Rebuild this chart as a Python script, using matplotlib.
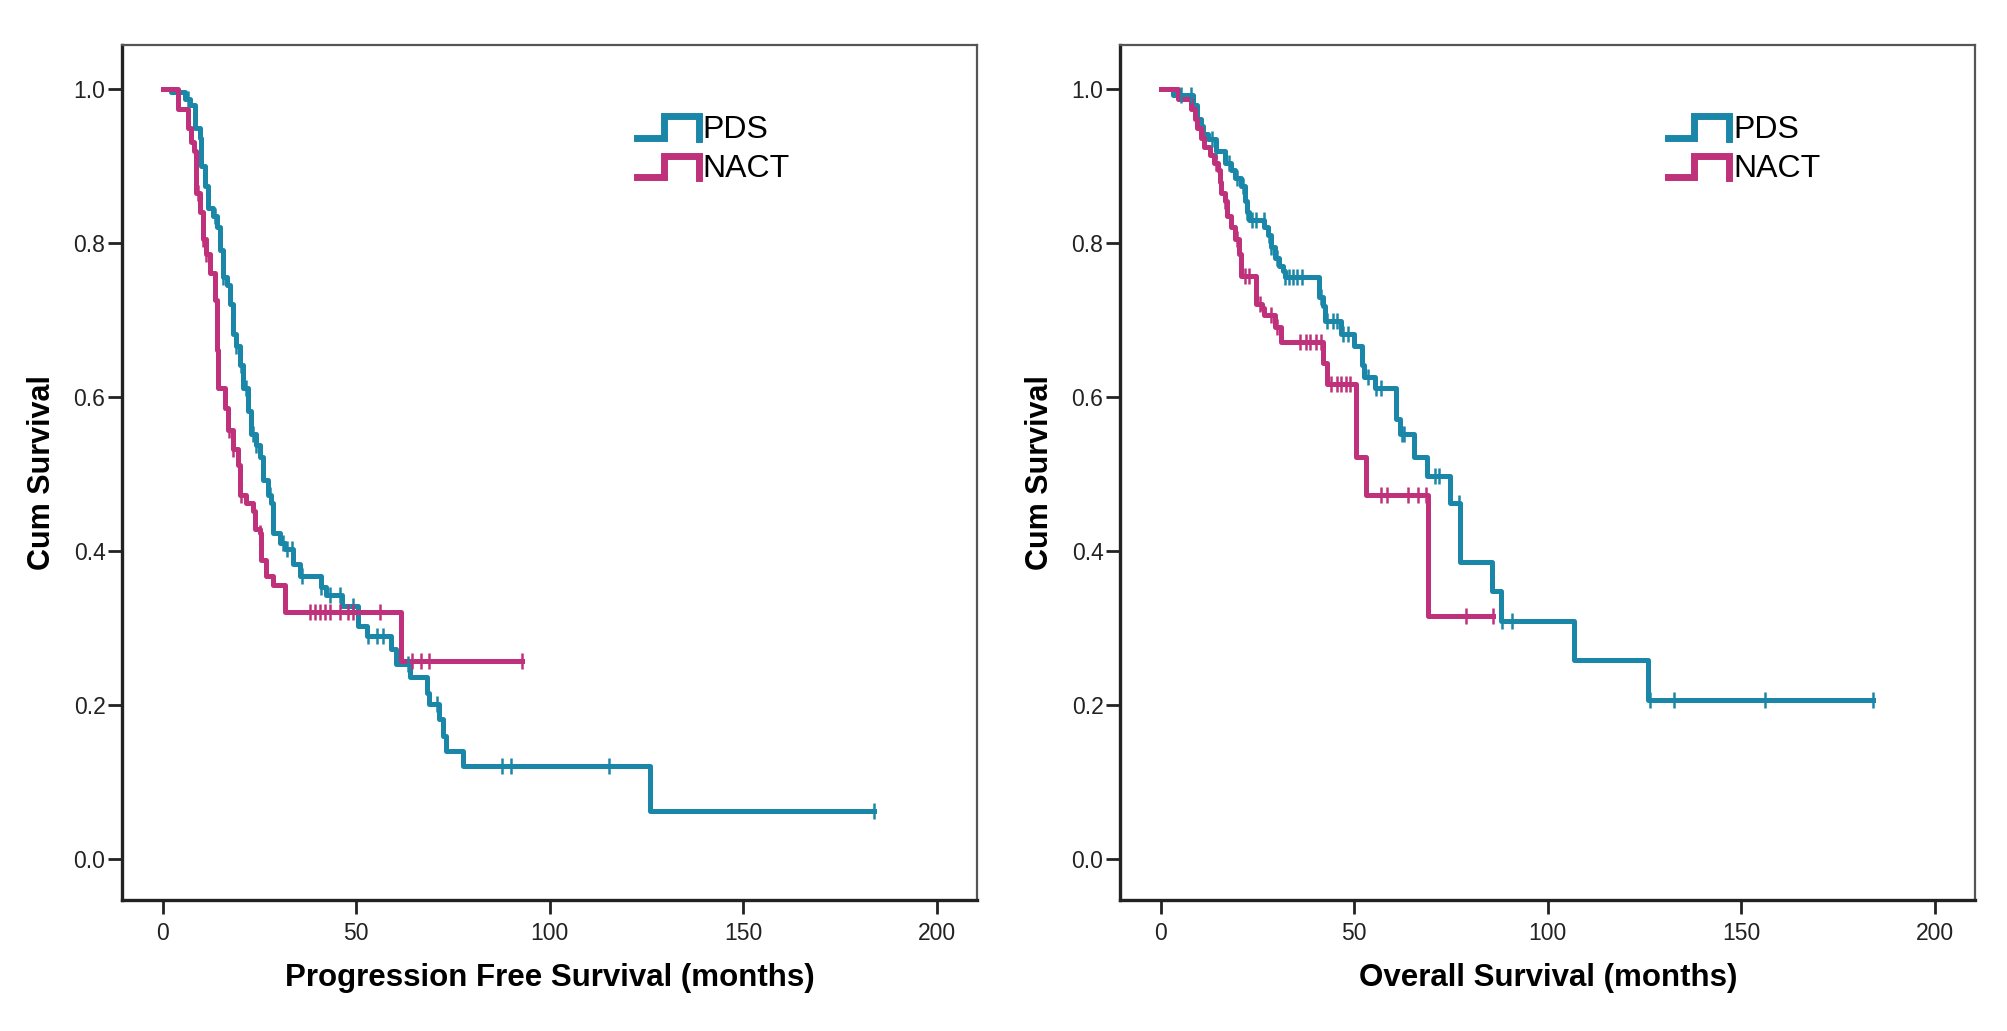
import numpy as np
import matplotlib
matplotlib.use("Agg")
import matplotlib.pyplot as plt
from matplotlib.legend_handler import HandlerBase
from matplotlib.lines import Line2D

plt.rcParams["font.family"] = ["Liberation Sans", "DejaVu Sans"]

TEAL = "#1b87a8"
MAGENTA = "#bf317a"

# --- Progression free survival: step points (time in months, survival) ---
pfs_pds_t = [0, 2.2, 5.7, 7.0, 8.3, 9.6, 10.0, 10.9, 11.7, 13.0, 13.9, 14.7, 15.6,
             16.5, 17.3, 18.2, 19.0, 19.9, 20.8, 22.1, 22.9, 24.2, 25.1, 25.9, 27.2,
             28.1, 28.5, 30.2, 31.5, 33.7, 35.4, 41.0, 42.3, 46.2, 50.5, 52.9, 58.9,
             60.2, 63.9, 68.2, 68.7, 71.4, 72.5, 73.3, 77.6, 126.0, 183.8]
pfs_pds_s = [1.0, 0.996, 0.986, 0.978, 0.949, 0.936, 0.899, 0.874, 0.845, 0.835, 0.820,
             0.790, 0.755, 0.745, 0.720, 0.681, 0.666, 0.641, 0.611, 0.582, 0.552, 0.537,
             0.522, 0.492, 0.472, 0.462, 0.423, 0.410, 0.403, 0.383, 0.368, 0.353, 0.343,
             0.328, 0.302, 0.289, 0.273, 0.253, 0.236, 0.216, 0.201, 0.182, 0.160, 0.140,
             0.121, 0.062, 0.062]
pfs_pds_cens = [6.5, 9.6, 13.4, 15.6, 19.0, 20.3, 21.6, 23.4, 24.2, 27.7, 31.1, 32.0,
                33.3, 35.9, 41.0, 43.2, 45.8, 49.2, 53.1, 55.3, 57.0, 63.4, 70.9, 87.7,
                90.1, 115.3, 183.8]

pfs_nact_t = [0, 4.0, 6.5, 7.4, 8.0, 8.7, 9.6, 10.4, 11.3, 12.1, 13.4, 13.9, 14.1, 14.3,
              16.0, 16.9, 18.2, 19.5, 19.9, 21.6, 23.4, 23.8, 25.1, 25.5, 26.8, 28.5,
              31.5, 61.5, 92.8]
pfs_nact_s = [1.0, 0.974, 0.949, 0.931, 0.919, 0.864, 0.840, 0.805, 0.785, 0.760, 0.725,
              0.701, 0.661, 0.611, 0.586, 0.557, 0.532, 0.512, 0.472, 0.462, 0.452, 0.428,
              0.423, 0.388, 0.368, 0.356, 0.321, 0.257, 0.257]
pfs_nact_cens = [9.0, 10.4, 11.3, 17.0, 18.2, 20.3, 25.1, 38.0, 39.3, 40.6, 41.9, 43.2,
                 45.8, 47.9, 49.2, 56.1, 64.4, 66.6, 68.7, 92.8]

# --- Overall survival ---
os_pds_t = [0, 3.3, 8.3, 9.3, 10.3, 10.8, 12.3, 14.2, 16.7, 18.2, 19.2, 20.7, 21.7, 22.2,
            22.7, 26.7, 27.6, 28.6, 29.6, 30.6, 31.6, 32.1, 41.0, 42.0, 42.5, 46.5, 50.0,
            52.0, 52.5, 55.4, 60.9, 61.9, 65.4, 68.9, 74.8, 77.3, 85.5, 87.8, 106.8,
            126.0, 184.0]
os_pds_s = [1.0, 0.991, 0.978, 0.961, 0.951, 0.941, 0.934, 0.919, 0.904, 0.894, 0.884,
            0.874, 0.854, 0.840, 0.830, 0.820, 0.810, 0.795, 0.780, 0.770, 0.763, 0.755,
            0.730, 0.718, 0.698, 0.681, 0.666, 0.641, 0.626, 0.611, 0.571, 0.552, 0.522,
            0.497, 0.462, 0.386, 0.348, 0.309, 0.258, 0.206, 0.206]
os_pds_cens = [5.3, 7.8, 13.2, 14.2, 17.7, 19.7, 21.2, 22.2, 23.7, 24.7, 26.6, 28.1, 28.6,
               30.1, 32.1, 33.1, 34.1, 35.1, 36.6, 41.5, 43.0, 44.5, 45.5, 47.0, 48.5,
               53.5, 55.5, 56.9, 62.4, 62.9, 70.8, 71.8, 77.0, 88.2, 90.7, 126.5, 132.5,
               156.0, 184.0]

os_nact_t = [0, 4.5, 7.8, 8.8, 9.3, 10.3, 11.3, 12.7, 13.7, 14.7, 15.2, 15.7, 16.7, 17.2,
             18.2, 19.2, 20.2, 20.7, 24.7, 26.2, 26.7, 29.6, 31.1, 42.0, 43.0, 50.5, 53.0,
             69.0, 85.8]
os_nact_s = [1.0, 0.986, 0.974, 0.961, 0.949, 0.936, 0.924, 0.914, 0.904, 0.894, 0.879,
             0.864, 0.854, 0.835, 0.820, 0.805, 0.785, 0.757, 0.720, 0.715, 0.706, 0.691,
             0.671, 0.644, 0.616, 0.522, 0.472, 0.316, 0.316]
os_nact_cens = [10.8, 14.2, 16.7, 19.7, 21.7, 22.7, 25.7, 28.6, 30.1, 36.1, 37.6, 38.6,
                40.1, 41.5, 44.0, 45.5, 46.5, 48.0, 49.0, 56.9, 58.4, 63.9, 66.4, 68.5,
                78.8, 85.8]

groups = ["PDS", "NACT"]
x_ticks = [0, 50, 100, 150, 200]
y_ticks = [0.0, 0.2, 0.4, 0.6, 0.8, 1.0]


class StepHandler(HandlerBase):
    """Legend key drawn as a little KM step."""
    def create_artists(self, legend, orig_handle, xdescent, ydescent,
                       width, height, fontsize, trans):
        fx = np.array([0.0, 0.42, 0.42, 0.97, 0.97])
        fy = np.array([0.0, 0.0, 0.95, 0.95, -0.05])
        line = Line2D(fx * width - xdescent, fy * height - ydescent,
                      color=orig_handle.get_color(), lw=5,
                      solid_joinstyle="miter")
        line.set_transform(trans)
        return [line]


def km_panel(ax, curves, xlabel, legend_x):
    handles = []
    for t, s, cens, color in curves:
        t = np.asarray(t)
        s = np.asarray(s)
        h, = ax.step(t, s, where="post", color=color, lw=3.6, zorder=3)
        handles.append(h)
        idx = np.searchsorted(t, cens, side="right") - 1
        ax.plot(cens, s[idx], ls="none", marker="|", ms=12, mew=1.8,
                color=color, zorder=4)

    ax.set_xlim(-10.5, 210.5)
    ax.set_ylim(-0.053, 1.056)
    ax.set_xticks(x_ticks)
    ax.set_yticks(y_ticks)
    ax.set_yticklabels([f"{v:.1f}" for v in y_ticks])
    ax.tick_params(axis="both", labelsize=16.5, length=10, width=2.0, pad=2,
                   colors="#222222")
    ax.tick_params(axis="x", pad=6)

    for side in ["left", "bottom"]:
        ax.spines[side].set_linewidth(2.4)
        ax.spines[side].set_color("#222222")
    for side in ["top", "right"]:
        ax.spines[side].set_linewidth(1.6)
        ax.spines[side].set_color("#555555")

    ax.set_xlabel(xlabel, fontsize=22.5, fontweight="bold", labelpad=13)
    ax.set_ylabel("Cum Survival", fontsize=22, fontweight="bold", labelpad=12)

    ax.legend(handles, groups, handler_map={Line2D: StepHandler()},
              loc="upper left", bbox_to_anchor=(legend_x, 0.919),
              frameon=False, fontsize=23, handlelength=2.0, handleheight=0.7,
              handletextpad=0.05, labelspacing=0.3, borderpad=0,
              borderaxespad=0)


fig = plt.figure(figsize=(20.08, 10.31), dpi=100, facecolor="white")
ax1 = fig.add_axes([0.0608, 0.127, 0.426, 0.829])
ax2 = fig.add_axes([0.5578, 0.127, 0.426, 0.829])

km_panel(ax1,
         [(pfs_pds_t, pfs_pds_s, pfs_pds_cens, TEAL),
          (pfs_nact_t, pfs_nact_s, pfs_nact_cens, MAGENTA)],
         "Progression Free Survival (months)", 0.602)
km_panel(ax2,
         [(os_pds_t, os_pds_s, os_pds_cens, TEAL),
          (os_nact_t, os_nact_s, os_nact_cens, MAGENTA)],
         "Overall Survival (months)", 0.640)

fig.savefig("out.png", dpi=100, facecolor="white")
